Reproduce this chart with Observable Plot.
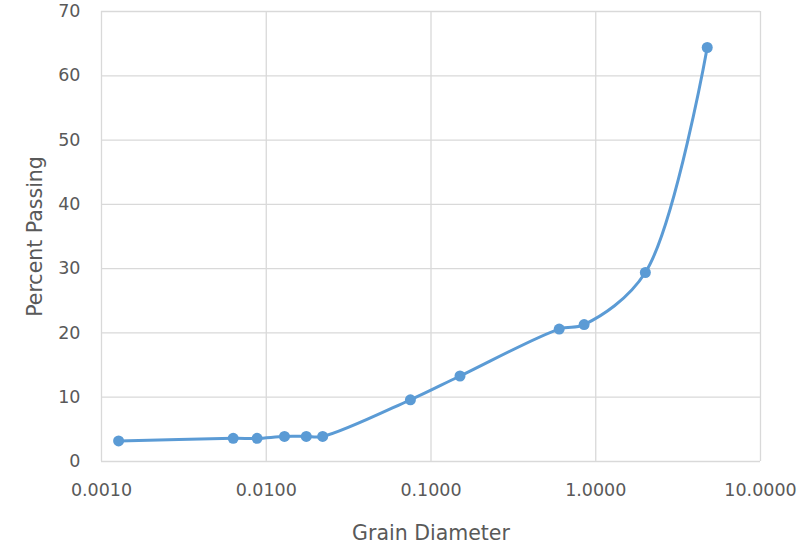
<!DOCTYPE html>
<html>
<head>
<meta charset="utf-8">
<script src="https://cdn.jsdelivr.net/npm/d3@7"></script>
<script src="https://cdn.jsdelivr.net/npm/@observablehq/plot@0.6"></script>
<style>
  html, body { margin: 0; padding: 0; background: #fff; }
  #chart svg { display: block; }
</style>
</head>
<body>
<div id="chart"></div>
<script>
const grainDiameter = [0.00127, 0.0063, 0.0088, 0.0129, 0.0175, 0.022, 0.075, 0.15, 0.6, 0.85, 2.0, 4.75];
const percentPassing = [3.2, 3.6, 3.6, 3.9, 3.9, 3.9, 9.6, 13.3, 20.6, 21.3, 29.4, 64.4];
const xTicks = [0.001, 0.01, 0.1, 1, 10];
const yTicks = [0, 10, 20, 30, 40, 50, 60, 70];

const data = grainDiameter.map((d, i) => ({d, p: percentPassing[i]}));
const blue = "#5b9bd5";
const textColor = "#595959";
const gridColor = "#d9d9d9";
const font = "DejaVu Sans, sans-serif";

const chart = Plot.plot({
  width: 809,
  height: 548,
  marginLeft: 101,
  marginRight: 49,
  marginTop: 11,
  marginBottom: 87,
  style: {fontFamily: font, background: "#fff"},
  x: {type: "log", domain: [0.001, 10]},
  y: {domain: [0, 70]},
  marks: [
    Plot.ruleX(xTicks, {stroke: gridColor, strokeWidth: 1.3}),
    Plot.ruleY(yTicks, {stroke: gridColor, strokeWidth: 1.3}),
    Plot.axisX(xTicks, {tickSize: 0, tickPadding: 22, tickFormat: d3.format(".4f"), fontSize: 17.5, fill: textColor, label: null}),
    Plot.axisY(yTicks, {tickSize: 0, tickPadding: 21, fontSize: 17.5, fill: textColor, label: null}),
    Plot.line(data, {x: "d", y: "p", curve: "catmull-rom", stroke: blue, strokeWidth: 3}),
    Plot.dot(data, {x: "d", y: "p", r: 5.5, fill: blue}),
    Plot.text(["Grain Diameter"], {frameAnchor: "bottom", dy: 78, lineAnchor: "bottom", text: d => d, fontSize: 20.5, fill: textColor}),
    Plot.text(["Percent Passing"], {frameAnchor: "left", dx: -66, rotate: -90, textAnchor: "middle", lineAnchor: "middle", text: d => d, fontSize: 20.5, fill: textColor})
  ]
});
document.getElementById("chart").appendChild(chart);
</script>
</body>
</html>
